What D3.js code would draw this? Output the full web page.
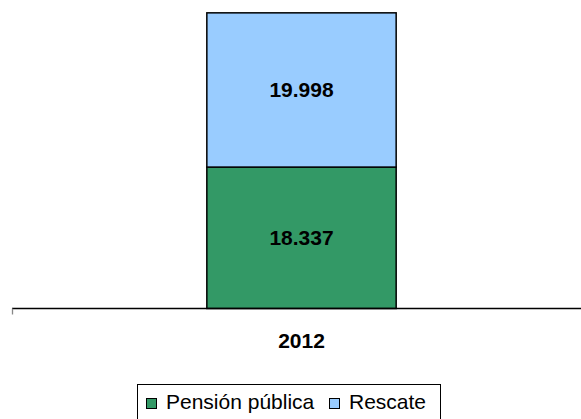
<!DOCTYPE html>
<html>
<head>
<meta charset="utf-8">
<script src="https://cdn.jsdelivr.net/npm/d3@7"></script>
<style>
  body { margin: 0; background: #fff; }
  svg { display: block; font-family: "Liberation Sans", Arial, sans-serif; }
</style>
</head>
<body>
<div id="chart"></div>
<script>
var years = ["2012"];
var seriesNames = ["Pensión pública", "Rescate"];
var pensionPublica = [18.337];
var rescate = [19.998];
var colors = ["#339966", "#99ccff"];

var width = 581, height = 419;
var margin = { top: 0, right: -10, bottom: 111, left: 12 };

var svg = d3.select("#chart").append("svg")
    .attr("width", width)
    .attr("height", height);

var rows = years.map(function(y, i) {
    return { year: y, pension: pensionPublica[i], rescate: rescate[i] };
});
var stack = d3.stack().keys(["pension", "rescate"]);
var layers = stack(rows);

var x = d3.scaleBand()
    .domain(years)
    .range([margin.left, width - margin.right])
    .paddingInner(0.673)
    .paddingOuter(0.3365);

var y = d3.scaleLinear()
    .domain([0, 40])
    .range([height - margin.bottom + 0.5, 0]);

var fmt = function(v) { return d3.format(".3f")(v).replace(",", "."); };

// bars
layers.forEach(function(layer, li) {
    svg.append("g").selectAll("rect")
        .data(layer)
        .enter()
        .append("rect")
        .attr("x", function(d) { return x(d.data.year); })
        .attr("y", function(d) { return y(d[1]); })
        .attr("width", x.bandwidth())
        .attr("height", function(d) { return y(d[0]) - y(d[1]); })
        .attr("fill", colors[li])
        .attr("stroke", "#000")
        .attr("stroke-width", 1.5);

    svg.append("g").selectAll("text")
        .data(layer)
        .enter()
        .append("text")
        .attr("x", function(d) { return x(d.data.year) + x.bandwidth() / 2; })
        .attr("y", function(d) { return (y(d[0]) + y(d[1])) / 2 + 7.5; })
        .attr("text-anchor", "middle")
        .style("font-size", "21px")
        .style("font-weight", "bold")
        .text(function(d) { return fmt(d[1] - d[0]); });
});

// x axis
var axisY = y(0);
svg.append("line")
    .attr("x1", margin.left).attr("x2", width)
    .attr("y1", axisY).attr("y2", axisY)
    .attr("stroke", "#000").attr("stroke-width", 1.3);
svg.append("line")
    .attr("x1", margin.left + 0.5).attr("x2", margin.left + 0.5)
    .attr("y1", axisY).attr("y2", axisY + 6)
    .attr("stroke", "#888").attr("stroke-width", 1.3);

svg.append("g").selectAll("text")
    .data(years)
    .enter()
    .append("text")
    .attr("x", function(d) { return x(d) + x.bandwidth() / 2; })
    .attr("y", 348)
    .attr("text-anchor", "middle")
    .style("font-size", "21px")
    .style("font-weight", "bold")
    .text(function(d) { return d; });

// legend
var legend = svg.append("g");
legend.append("rect")
    .attr("x", 137.5).attr("y", 384.5)
    .attr("width", 303).attr("height", 45)
    .attr("fill", "#fff")
    .attr("stroke", "#000")
    .attr("stroke-width", 1);

var legendX = [146, 329];
seriesNames.forEach(function(name, i) {
    legend.append("rect")
        .attr("x", legendX[i] + 0.5).attr("y", 398.5)
        .attr("width", 10).attr("height", 10)
        .attr("fill", colors[i])
        .attr("stroke", "#000")
        .attr("stroke-width", 1);
    legend.append("text")
        .attr("x", legendX[i] + 20)
        .attr("y", 409)
        .style("font-size", "21px")
        .text(name);
});
</script>
</body>
</html>
